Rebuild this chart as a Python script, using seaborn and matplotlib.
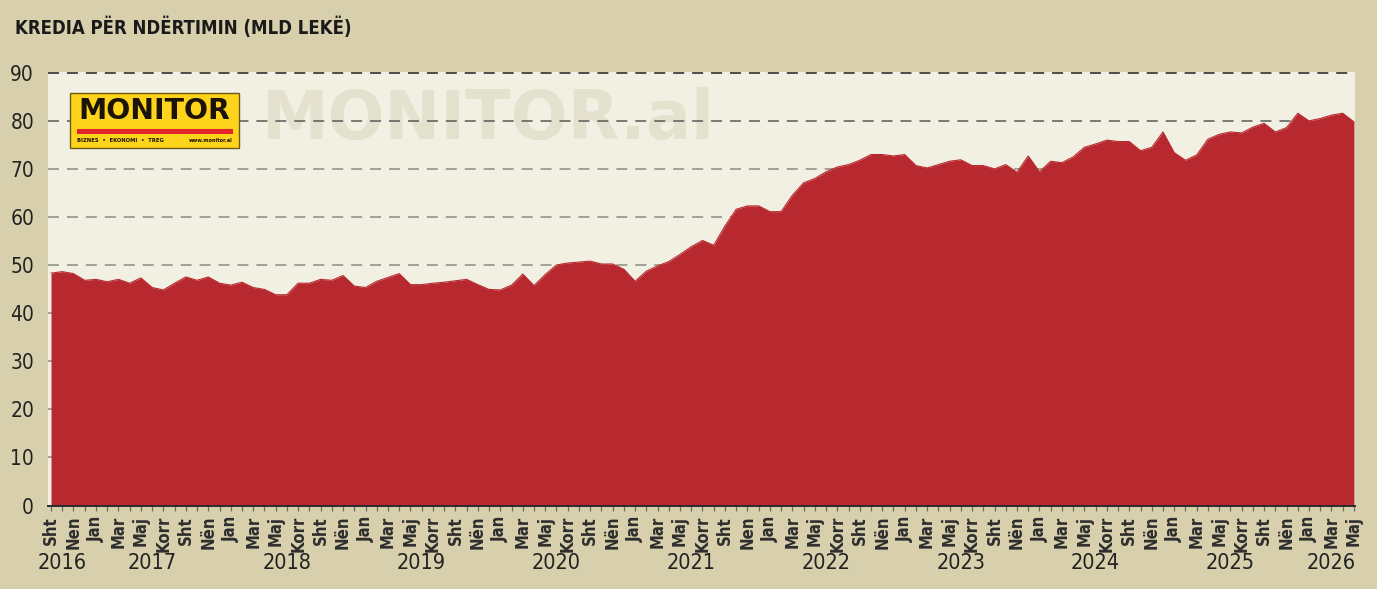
import numpy as np
import pandas as pd
import matplotlib
matplotlib.use("Agg")
import matplotlib.pyplot as plt
import matplotlib.transforms as mtransforms
from matplotlib import font_manager
from matplotlib.patches import Rectangle
import seaborn as sns

# %%
title = "KREDIA PËR NDËRTIMIN (MLD LEKË)"

# monthly credit, Sht 2016 .. Maj 2026 (mld lekë)
values = [
    48.4, 48.7, 48.3, 46.9,                                              # 2016 Sht-Dhj
    47.1, 46.6, 47.1, 46.3, 47.4, 45.4, 44.9, 46.3, 47.6, 46.9, 47.6, 46.3,  # 2017
    45.9, 46.5, 45.4, 45.0, 43.9, 43.9, 46.3, 46.3, 47.1, 46.9, 47.9, 45.7,  # 2018
    45.4, 46.7, 47.5, 48.3, 46.0, 46.0, 46.3, 46.5, 46.8, 47.1, 46.0, 45.0,  # 2019
    44.9, 45.9, 48.2, 45.8, 48.1, 50.1, 50.5, 50.7, 50.9, 50.3, 50.3, 49.2,  # 2020
    46.7, 48.8, 49.9, 50.8, 52.3, 53.9, 55.2, 54.2, 58.2, 61.7, 62.4, 62.4,  # 2021
    61.2, 61.2, 64.6, 67.2, 68.1, 69.5, 70.5, 71.0, 71.9, 73.1, 73.1, 72.8,  # 2022
    73.1, 70.8, 70.3, 71.0, 71.7, 72.0, 70.8, 70.8, 70.1, 71.0, 69.4, 72.8,  # 2023
    69.5, 71.7, 71.4, 72.6, 74.6, 75.3, 76.1, 75.8, 75.8, 73.9, 74.6, 77.8,  # 2024
    73.5, 71.9, 73.0, 76.3, 77.3, 77.8, 77.6, 78.8, 79.6, 77.8, 78.7, 81.7,  # 2025
    80.1, 80.6, 81.3, 81.7, 79.9,                                        # 2026 Jan-Maj
]

# labels on every second month, grouped by year
tick_labels = {
    2016: ["Sht", "Nen"],
    2017: ["Jan", "Mar", "Maj", "Korr", "Sht", "Nën"],
    2018: ["Jan", "Mar", "Maj", "Korr", "Sht", "Nën"],
    2019: ["Jan", "Mar", "Maj", "Korr", "Sht", "Nën"],
    2020: ["Jan", "Mar", "Maj", "Korr", "Sht", "Nën"],
    2021: ["Jan", "Mar", "Maj", "Korr", "Sht", "Nen"],
    2022: ["Jan", "Mar", "Maj", "Korr", "Sht", "Nën"],
    2023: ["Jan", "Mar", "Maj", "Korr", "Sht", "Nën"],
    2024: ["Jan", "Mar", "Maj", "Korr", "Sht", "Nën"],
    2025: ["Jan", "Mar", "Maj", "Korr", "Sht", "Nën"],
    2026: ["Jan", "Mar", "Maj"],
}

y_ticks = [0, 10, 20, 30, 40, 50, 60, 70, 80, 90]

# %%
bg = "#d8d0ad"
face = "#f2f0e3"
red = "#b8292f"
ink = "#222222"

sns.set_theme(style="white")

names = {f.name for f in font_manager.fontManager.ttflist}
if "Liberation Sans Narrow" in names:
    narrow = dict(family="Liberation Sans Narrow")
else:
    narrow = dict(family="DejaVu Sans", stretch="condensed")
plt.rcParams["font.family"] = [narrow["family"], "DejaVu Sans"]

df = pd.DataFrame({"x": np.arange(len(values)), "value": values})

W, H = 1377, 589
fig = plt.figure(figsize=(W / 100, H / 100), dpi=100, facecolor=bg)
ax = fig.add_axes([48 / W, 1 - 505.5 / H, (1354.5 - 48) / W, (505.5 - 71.7) / H])
ax.set_facecolor(face)

# watermark
wm = ax.text(0.337, 0.888, "MONITOR.al", transform=ax.transAxes, ha="center", va="center",
             color="#e5e1cf", fontsize=50, family="DejaVu Sans", weight="bold", zorder=0.5)

# grid
grid_colors = {90: "#1e1e1e", 80: "#5a5854"}
for yv in y_ticks[1:]:
    ax.axhline(yv, color=grid_colors.get(yv, "#8d8a80"), lw=1.1, dashes=(7.2, 5.2), zorder=1)

ax.fill_between(df["x"], df["value"], 0, color=red, lw=0, zorder=2)
sns.lineplot(data=df, x="x", y="value", color=red, lw=0.8, ax=ax, zorder=3)

ax.set_xlim(-0.27, 116.05)
ax.set_ylim(0, 90.35)
ax.set_xlabel("")
ax.set_ylabel("")

for s in ["top", "right", "left"]:
    ax.spines[s].set_visible(False)
ax.spines["bottom"].set_color("#2b2b2b")
ax.spines["bottom"].set_linewidth(1.4)
ax.spines["bottom"].set_zorder(4)

labels = [lab for yr in tick_labels for lab in tick_labels[yr]]
ax.set_xticks(np.arange(0, len(values), 2))
ax.set_xticklabels(labels, rotation=90, fontsize=12, weight="bold", color="#2e2e2e", **narrow)
ax.set_xticks(np.arange(len(values)), minor=True)
ax.tick_params(axis="x", which="both", bottom=True, length=3.5, width=0.9, color="#6b6b6b", pad=4)

ax.set_yticks(y_ticks)
ax.set_yticklabels([str(v) for v in y_ticks], fontsize=15, color=ink, **narrow)
ax.tick_params(axis="y", length=0, pad=10)

# year labels under the month labels
trans = mtransforms.blended_transform_factory(ax.transData, ax.transAxes)
i = 0
for yr, labs in tick_labels.items():
    pos = np.mean([2 * (i + k) for k in range(len(labs))])
    i += len(labs)
    ax.text(pos, -0.133, str(yr), transform=trans, ha="center", va="center",
            fontsize=15.5, color=ink, **narrow)

# title
tt = fig.text(15 / W, 1 - 27 / H, title, ha="left", va="center", fontsize=16,
              color="#1a1a1a", weight="heavy", **narrow)

# logo
fig.patches.append(Rectangle((70 / W, 1 - 148 / H), 169 / W, 55 / H, transform=fig.transFigure,
                             facecolor="#fdd31c", edgecolor="#6b5a10", lw=1.0, zorder=5))
fig.patches.append(Rectangle((77 / W, 1 - 134 / H), 156 / W, 5 / H, transform=fig.transFigure,
                             facecolor="#e3242b", edgecolor="none", zorder=6))
lt = fig.text(154 / W, 1 - 111 / H, "MONITOR", ha="center", va="center", fontsize=24,
              color="#1b1208", weight="heavy", family="DejaVu Sans", zorder=7)
st1 = fig.text(77 / W, 1 - 141 / H, "BIZNES  •  EKONOMI  •  TREG", ha="left", va="center",
               fontsize=5, color="#1b1208", weight="bold", family="DejaVu Sans", zorder=7)
st2 = fig.text(233 / W, 1 - 141 / H, "www.monitor.al", ha="right", va="center",
               fontsize=4.5, color="#1b1208", weight="bold", family="DejaVu Sans", zorder=7)


def fit_width(t, width_px):
    r = fig.canvas.get_renderer()
    w = t.get_window_extent(r).width
    t.set_fontsize(t.get_fontsize() * width_px / w)


fig.canvas.draw()
fit_width(tt, 340)
fit_width(wm, 454)
fit_width(lt, 152)
fit_width(st1, 88)
fit_width(st2, 44)

fig.savefig("out.png", dpi=100, facecolor=bg)
